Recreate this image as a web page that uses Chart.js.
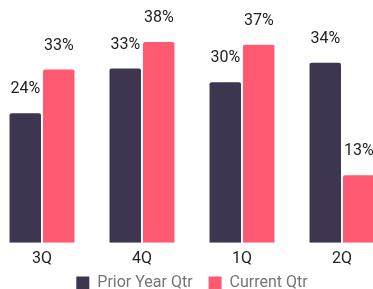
<!DOCTYPE html>
<html>
<head>
<meta charset="utf-8">
<script src="https://cdn.jsdelivr.net/npm/chart.js@4/dist/chart.umd.min.js"></script>
<style>
  html, body { margin: 0; padding: 0; overflow: hidden; background: #fff; }
  #wrap { position: absolute; left: -8px; top: 0; width: 400px; height: 310px; }
</style>
</head>
<body>
<div id="wrap"><canvas id="chart"></canvas></div>
<script>
const quarters = ['3Q', '4Q', '1Q', '2Q'];
const priorYear = [24.4, 32.8, 30.2, 33.9];
const currentQtr = [32.6, 37.8, 37.3, 12.7];
const seriesNames = ['Prior Year Qtr', 'Current Qtr'];

// draws the rounded percent value above each bar
const valueLabels = {
  id: 'valueLabels',
  afterDatasetsDraw(chart) {
    const ctx = chart.ctx;
    ctx.save();
    ctx.font = '16px Roboto';
    ctx.fillStyle = '#222222';
    ctx.textAlign = 'center';
    ctx.textBaseline = 'alphabetic';
    chart.data.datasets.forEach((ds, i) => {
      chart.getDatasetMeta(i).data.forEach((bar, j) => {
        ctx.fillText(Math.round(ds.data[j]) + '%', bar.x, bar.y - 20);
      });
    });
    ctx.restore();
  }
};

// legend sits tighter under the quarter labels than chart.js spaces it
const legendLift = {
  id: 'legendLift',
  afterLayout(chart) {
    chart.legend.top -= 9;
    chart.legend.bottom -= 9;
  }
};

new Chart(document.getElementById('chart'), {
  type: 'bar',
  data: {
    labels: quarters,
    datasets: [
      {
        label: seriesNames[0],
        data: priorYear,
        backgroundColor: '#3e3550',
        borderRadius: 2,
        borderSkipped: 'bottom',
      },
      {
        label: seriesNames[1],
        data: currentQtr,
        backgroundColor: '#ff5a72',
        borderRadius: 2,
        borderSkipped: 'bottom',
      },
    ],
  },
  options: {
    responsive: true,
    maintainAspectRatio: false,
    animation: false,
    layout: { padding: 0 },
    datasets: {
      bar: { categoryPercentage: 0.67, barPercentage: 0.94 },
    },
    scales: {
      x: {
        grid: { display: false },
        border: { display: false },
        ticks: { color: '#222222', font: { family: 'Roboto', size: 16 }, padding: -1 },
      },
      y: {
        display: false,
        min: 0,
        max: 45.7,
      },
    },
    plugins: {
      tooltip: { enabled: false },
      legend: {
        position: 'bottom',
        labels: {
          boxWidth: 13,
          boxHeight: 13,
          padding: 16,
          color: '#757575',
          font: { family: 'Roboto', size: 16 },
        },
      },
    },
  },
  plugins: [valueLabels, legendLift],
});
</script>
</body>
</html>
